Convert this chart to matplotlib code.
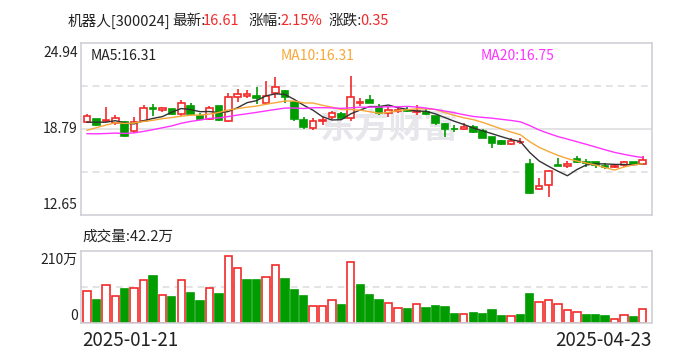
import matplotlib
matplotlib.use("Agg")
import matplotlib.pyplot as plt
from matplotlib.patches import Rectangle
import pandas as pd

plt.rcParams['font.family'] = ['Noto Sans CJK SC', 'DejaVu Sans']

name = "机器人"
code = "300024"
start_date = "2025-01-21"
end_date = "2025-04-23"

# daily candles, 2025-01-21 .. 2025-04-23
opens = [19.32, 19.49, 19.37, 19.20, 19.32, 18.68, 19.39, 20.29, 20.13, 20.20,
         19.87, 20.44, 19.73, 19.53, 20.44, 19.39, 21.06, 21.13, 21.15, 20.63,
         21.35, 21.52, 20.75, 19.44, 18.85, 19.39, 19.63, 19.87, 19.56, 20.63,
         20.87, 20.39, 19.92, 20.08, 20.15, 20.03, 20.03, 19.73, 19.15, 18.80,
         18.82, 18.96, 18.68, 18.20, 17.94, 17.70, 17.85, 16.30, 14.49, 14.80,
         16.21, 16.13, 16.65, 16.43, 16.41, 16.13, 16.11, 16.23, 16.44, 16.30]
highs = [19.85, 19.52, 20.34, 19.78, 19.36, 19.63, 20.51, 20.58, 20.39, 20.22,
         20.87, 20.65, 19.92, 20.44, 20.46, 21.35, 21.63, 21.59, 21.82, 22.23,
         22.53, 21.55, 20.78, 19.68, 19.56, 19.68, 20.08, 20.03, 22.58, 20.99,
         21.23, 20.56, 20.34, 20.34, 20.34, 20.51, 20.20, 19.75, 19.25, 19.08,
         19.20, 19.08, 18.77, 18.22, 18.01, 18.13, 18.13, 16.63, 15.27, 15.87,
         16.70, 16.53, 16.87, 16.65, 16.46, 16.35, 16.23, 16.49, 16.44, 16.87]
lows = [19.20, 19.01, 19.32, 19.11, 18.20, 18.53, 19.32, 19.73, 19.99, 19.80,
        19.75, 19.80, 19.49, 19.44, 19.37, 19.32, 20.75, 20.99, 20.56, 20.51,
        20.99, 20.63, 19.39, 18.77, 18.73, 19.08, 19.49, 19.56, 19.39, 20.44,
        20.66, 19.80, 19.68, 19.92, 19.99, 19.80, 19.80, 19.08, 18.25, 18.61,
        18.73, 18.53, 18.15, 17.46, 17.65, 17.65, 17.75, 14.15, 14.45, 13.92,
        16.15, 15.99, 16.40, 16.11, 15.99, 15.92, 16.04, 16.11, 16.20, 16.25]
closes = [19.70, 19.11, 19.44, 19.61, 18.30, 19.32, 20.27, 20.25, 20.27, 19.87,
          20.63, 19.87, 19.53, 20.32, 19.44, 21.06, 21.27, 21.30, 21.04, 21.15,
          21.78, 21.06, 19.51, 18.96, 19.37, 19.44, 19.92, 19.61, 21.06, 20.73,
          20.68, 19.92, 20.15, 20.13, 20.08, 20.10, 19.85, 19.20, 18.82, 18.77,
          18.95, 18.60, 18.18, 17.80, 17.70, 17.94, 17.90, 14.25, 14.75, 15.80,
          16.18, 16.30, 16.45, 16.40, 16.23, 16.11, 16.15, 16.41, 16.26, 16.61]
# closes before the window, only for the moving averages
prev_closes = [19.3, 19.0, 19.0, 18.8, 18.5, 18.2, 17.8, 17.5, 17.2, 16.9,
               17.2, 17.6, 18.0, 18.7, 19.1, 19.11, 19.44, 19.06, 19.09]
# volume, 万手
volumes = [94, 66, 112, 80, 98, 103, 126, 136, 83, 75,
           126, 87, 63, 103, 84, 194, 161, 124, 124, 135,
           170, 127, 95, 78, 51, 51, 68, 52, 179, 110,
           81, 66, 59, 45, 40, 56, 43, 49, 46, 25,
           27, 28, 25, 37, 19, 21, 22, 84, 62, 68,
           56, 39, 33, 22, 22, 19, 13, 24, 17, 42.2]
vol_up = [1, 0, 1, 1, 0, 1, 1, 0, 1, 0,
          1, 0, 0, 1, 0, 1, 1, 0, 0, 1,
          1, 0, 0, 0, 1, 1, 1, 0, 1, 0,
          0, 0, 1, 1, 0, 1, 0, 0, 0, 0,
          1, 0, 0, 0, 0, 1, 0, 0, 1, 1,
          1, 1, 1, 0, 0, 0, 1, 1, 0, 1]
price_ticks = [24.94, 18.79, 12.65]
vol_top = 210

RED = '#f22a2a'
GREEN = '#009c00'
GRID = '#dedee2'
FRAME = '#d0d0d8'

n = len(closes)
s = pd.Series(prev_closes + closes)
ma5 = s.rolling(5).mean().values[-n:]
ma10 = s.rolling(10).mean().values[-n:]
ma20 = s.rolling(20).mean().values[-n:]

W, H = 688, 360
fig = plt.figure(figsize=(W / 100, H / 100), dpi=100)
ax = fig.add_axes([81 / W, 145 / H, 571 / W, 172 / H])
axv = fig.add_axes([81 / W, 37 / H, 571 / W, 72 / H])

for a in (ax, axv):
    a.set_xlim(-0.64, 59.98)
    a.set_xticks([])
    a.set_yticks([])
    for sp in a.spines.values():
        sp.set_color(FRAME)
        sp.set_linewidth(1.2)

lo, hi = price_ticks[2], price_ticks[0]
ax.set_ylim(lo, hi)
mid = (lo + hi) / 2
ax.axhline(mid, color=GRID, lw=1.2, zorder=0)
for v in (lo + (hi - lo) * 0.25, lo + (hi - lo) * 0.75):
    ax.axhline(v, color=GRID, lw=1.2, ls=(0, (4, 3)), zorder=0)

# watermark
ax.text(0.54, 0.51, "东方财富", transform=ax.transAxes, ha='center', va='center',
        fontsize=25, fontweight='bold', color='#e6e6eb', zorder=0)

w = 0.7
for i in range(n):
    o, h, l, c = opens[i], highs[i], lows[i], closes[i]
    col = RED if c > o else GREEN
    ax.vlines(i, l, h, color=col, lw=1.2, zorder=2)
    ax.add_patch(Rectangle((i - w / 2, min(o, c)), w, abs(c - o),
                           facecolor='white' if c > o else col,
                           edgecolor=col, lw=1.2, zorder=3))

x = range(n)
ax.plot(x, ma5, color='#333333', lw=1, zorder=4)
ax.plot(x, ma10, color='#f7a838', lw=1, zorder=4)
ax.plot(x, ma20, color='#ff33ff', lw=1, zorder=4)

for t, yf in zip(price_ticks, [0.94, 0.5, 0.06]):
    ax.text(-0.006, yf, f"{t:.2f}", transform=ax.transAxes,
            ha='right', va='center', fontsize=10, color='#222222')

fig.text(91 / W, 1 - 56 / H, f"MA5:{ma5[-1]:.2f}", color='#222222', fontsize=10, va='center')
fig.text(281 / W, 1 - 56 / H, f"MA10:{ma10[-1]:.2f}", color='#f7a838', fontsize=10, va='center')
fig.text(481 / W, 1 - 56 / H, f"MA20:{ma20[-1]:.2f}", color='#ff33ff', fontsize=10, va='center')

# volume
axv.set_ylim(0, vol_top)
axv.axhline(vol_top / 2, color=GRID, lw=1.2, ls=(0, (4, 3)), zorder=0)
for i in range(n):
    col = RED if vol_up[i] else GREEN
    axv.bar(i, volumes[i], width=0.78, facecolor='white' if vol_up[i] else col,
            edgecolor=col, lw=1.2, zorder=2)
axv.text(-0.006, 0.875, f"{vol_top}万", transform=axv.transAxes, ha='right', va='center',
         fontsize=10, color='#222222')
axv.text(-0.006, 0.1, "0", transform=axv.transAxes, ha='right', va='center',
         fontsize=10, color='#222222')
fig.text(82 / W, 1 - 237 / H, f"成交量:{volumes[-1]:.1f}万", fontsize=10.5,
         color='#222222', va='center')

fig.text(82 / W, 1 - 341 / H, start_date, fontsize=13.5, color='#222222', va='center')
fig.text(652 / W, 1 - 341 / H, end_date, fontsize=13.5, color='#222222', va='center', ha='right')

# header line
last = closes[-1]
chg = closes[-1] - closes[-2]
pct = chg / closes[-2] * 100
hy = 1 - 21 / H
parts = [(68, f"{name}[{code}]", '#222222'), (172, "最新:", '#222222'),
         (203, f"{last:.2f}", RED), (249, "涨幅:", '#222222'),
         (280, f"{pct:.2f}%", RED), (329, "涨跌:", '#222222'),
         (360, f"{chg:.2f}", RED)]
for px, txt, col in parts:
    fig.text(px / W, hy, txt, fontsize=10.5, color=col, va='center')

fig.savefig("out.png", dpi=100)
